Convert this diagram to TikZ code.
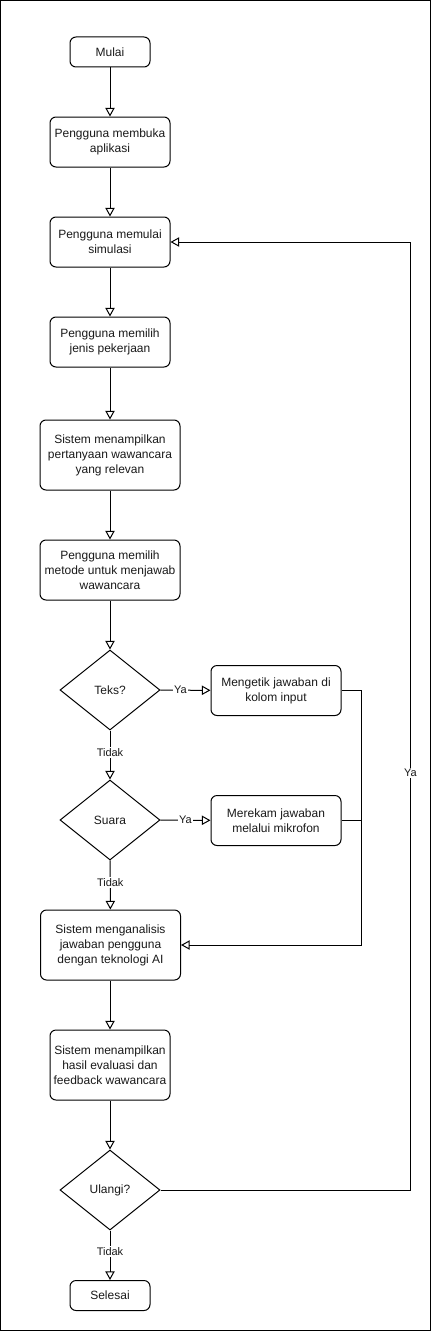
\documentclass[tikz,border=0pt]{standalone}
\usepackage{fontspec}
\setmainfont{Liberation Sans}
\usetikzlibrary{arrows.meta,shapes.geometric}
\begin{document}
\begin{tikzpicture}[x=0.75pt,y=-0.75pt,
  every node/.style={font=\fontsize{9}{11.25}\selectfont, text=black!90},
  box/.style={draw, line width=0.75pt, rounded corners=4.5pt, align=center, inner sep=1pt},
  dec/.style={draw, diamond, line width=0.75pt, minimum width=75pt, minimum height=60pt, inner sep=0pt, align=center},
  arr/.style={line width=0.75pt, -{Triangle[open, length=6.5pt, width=7pt]}},
  ln/.style={line width=0.75pt},
  lbl/.style={fill=white, inner sep=1pt, font=\fontsize{8.25}{10}\selectfont}]
\useasboundingbox (0,0) rectangle (431,1331);
\draw[line width=0.9pt] (0.6,0.6) rectangle (430.4,1330.4);

\node[box, minimum width=60pt, minimum height=22.5pt] (mulai) at (110,52) {Mulai};
\node[box, minimum width=90pt, minimum height=37.5pt] (buka) at (110,142) {Pengguna membuka\\aplikasi};
\node[box, minimum width=90pt, minimum height=37.5pt] (simulasi) at (110,242) {Pengguna memulai\\simulasi};
\node[box, minimum width=90pt, minimum height=37.5pt] (jenis) at (110,342) {Pengguna memilih\\jenis pekerjaan};
\node[box, minimum width=105pt, minimum height=52.5pt] (tanya) at (110,455) {Sistem menampilkan\\pertanyaan wawancara\\yang relevan};
\node[box, minimum width=105pt, minimum height=45pt] (metode) at (110,570) {Pengguna memilih\\metode untuk menjawab\\wawancara};
\node[dec] (teks) at (110,690) {Teks?};
\node[box, minimum width=97.5pt, minimum height=37.5pt] (ketik) at (276,690.5) {Mengetik jawaban di\\kolom input};
\node[dec] (suara) at (110,820) {Suara};
\node[box, minimum width=97.5pt, minimum height=37.5pt] (rekam) at (276,820.5) {Merekam jawaban\\melalui mikrofon};
\node[box, minimum width=105pt, minimum height=52.5pt] (analisis) at (110.5,945) {Sistem menganalisis\\jawaban pengguna\\dengan teknologi AI};
\node[box, minimum width=90pt, minimum height=52.5pt] (hasil) at (110,1065) {Sistem menampilkan\\hasil evaluasi dan\\feedback wawancara};
\node[dec] (ulangi) at (110,1190) {Ulangi?};
\node[box, minimum width=60pt, minimum height=22.5pt] (selesai) at (110,1295.5) {Selesai};

\draw[arr] (mulai) -- (buka);
\draw[arr] (buka) -- (simulasi);
\draw[arr] (simulasi) -- (jenis);
\draw[arr] (jenis) -- (tanya);
\draw[arr] (tanya) -- (metode);
\draw[arr] (metode) -- (teks);
\draw[arr] (teks) -- node[lbl, pos=0.4]{Ya} (ketik);
\draw[arr] (teks) -- node[lbl, pos=0.45]{Tidak} (suara);
\draw[arr] (suara) -- node[lbl, pos=0.5]{Ya} (rekam);
\draw[arr] (suara) -- node[lbl, pos=0.45]{Tidak} (analisis);
\draw[arr] (ketik.east) -- ++(20,0) coordinate (j) |- (analisis.east);
\draw[ln] (rekam.east) -- (rekam.east -| j);
\draw[arr] (analisis.south -| hasil) -- (hasil);
\draw[arr] (hasil) -- (ulangi);
\draw[arr] (ulangi) -- node[lbl, pos=0.42]{Tidak} (selesai);
\draw[arr] (ulangi.east) -- ++(250,0) |- node[lbl, pos=0.22]{Ya} (simulasi.east);
\end{tikzpicture}
\end{document}
